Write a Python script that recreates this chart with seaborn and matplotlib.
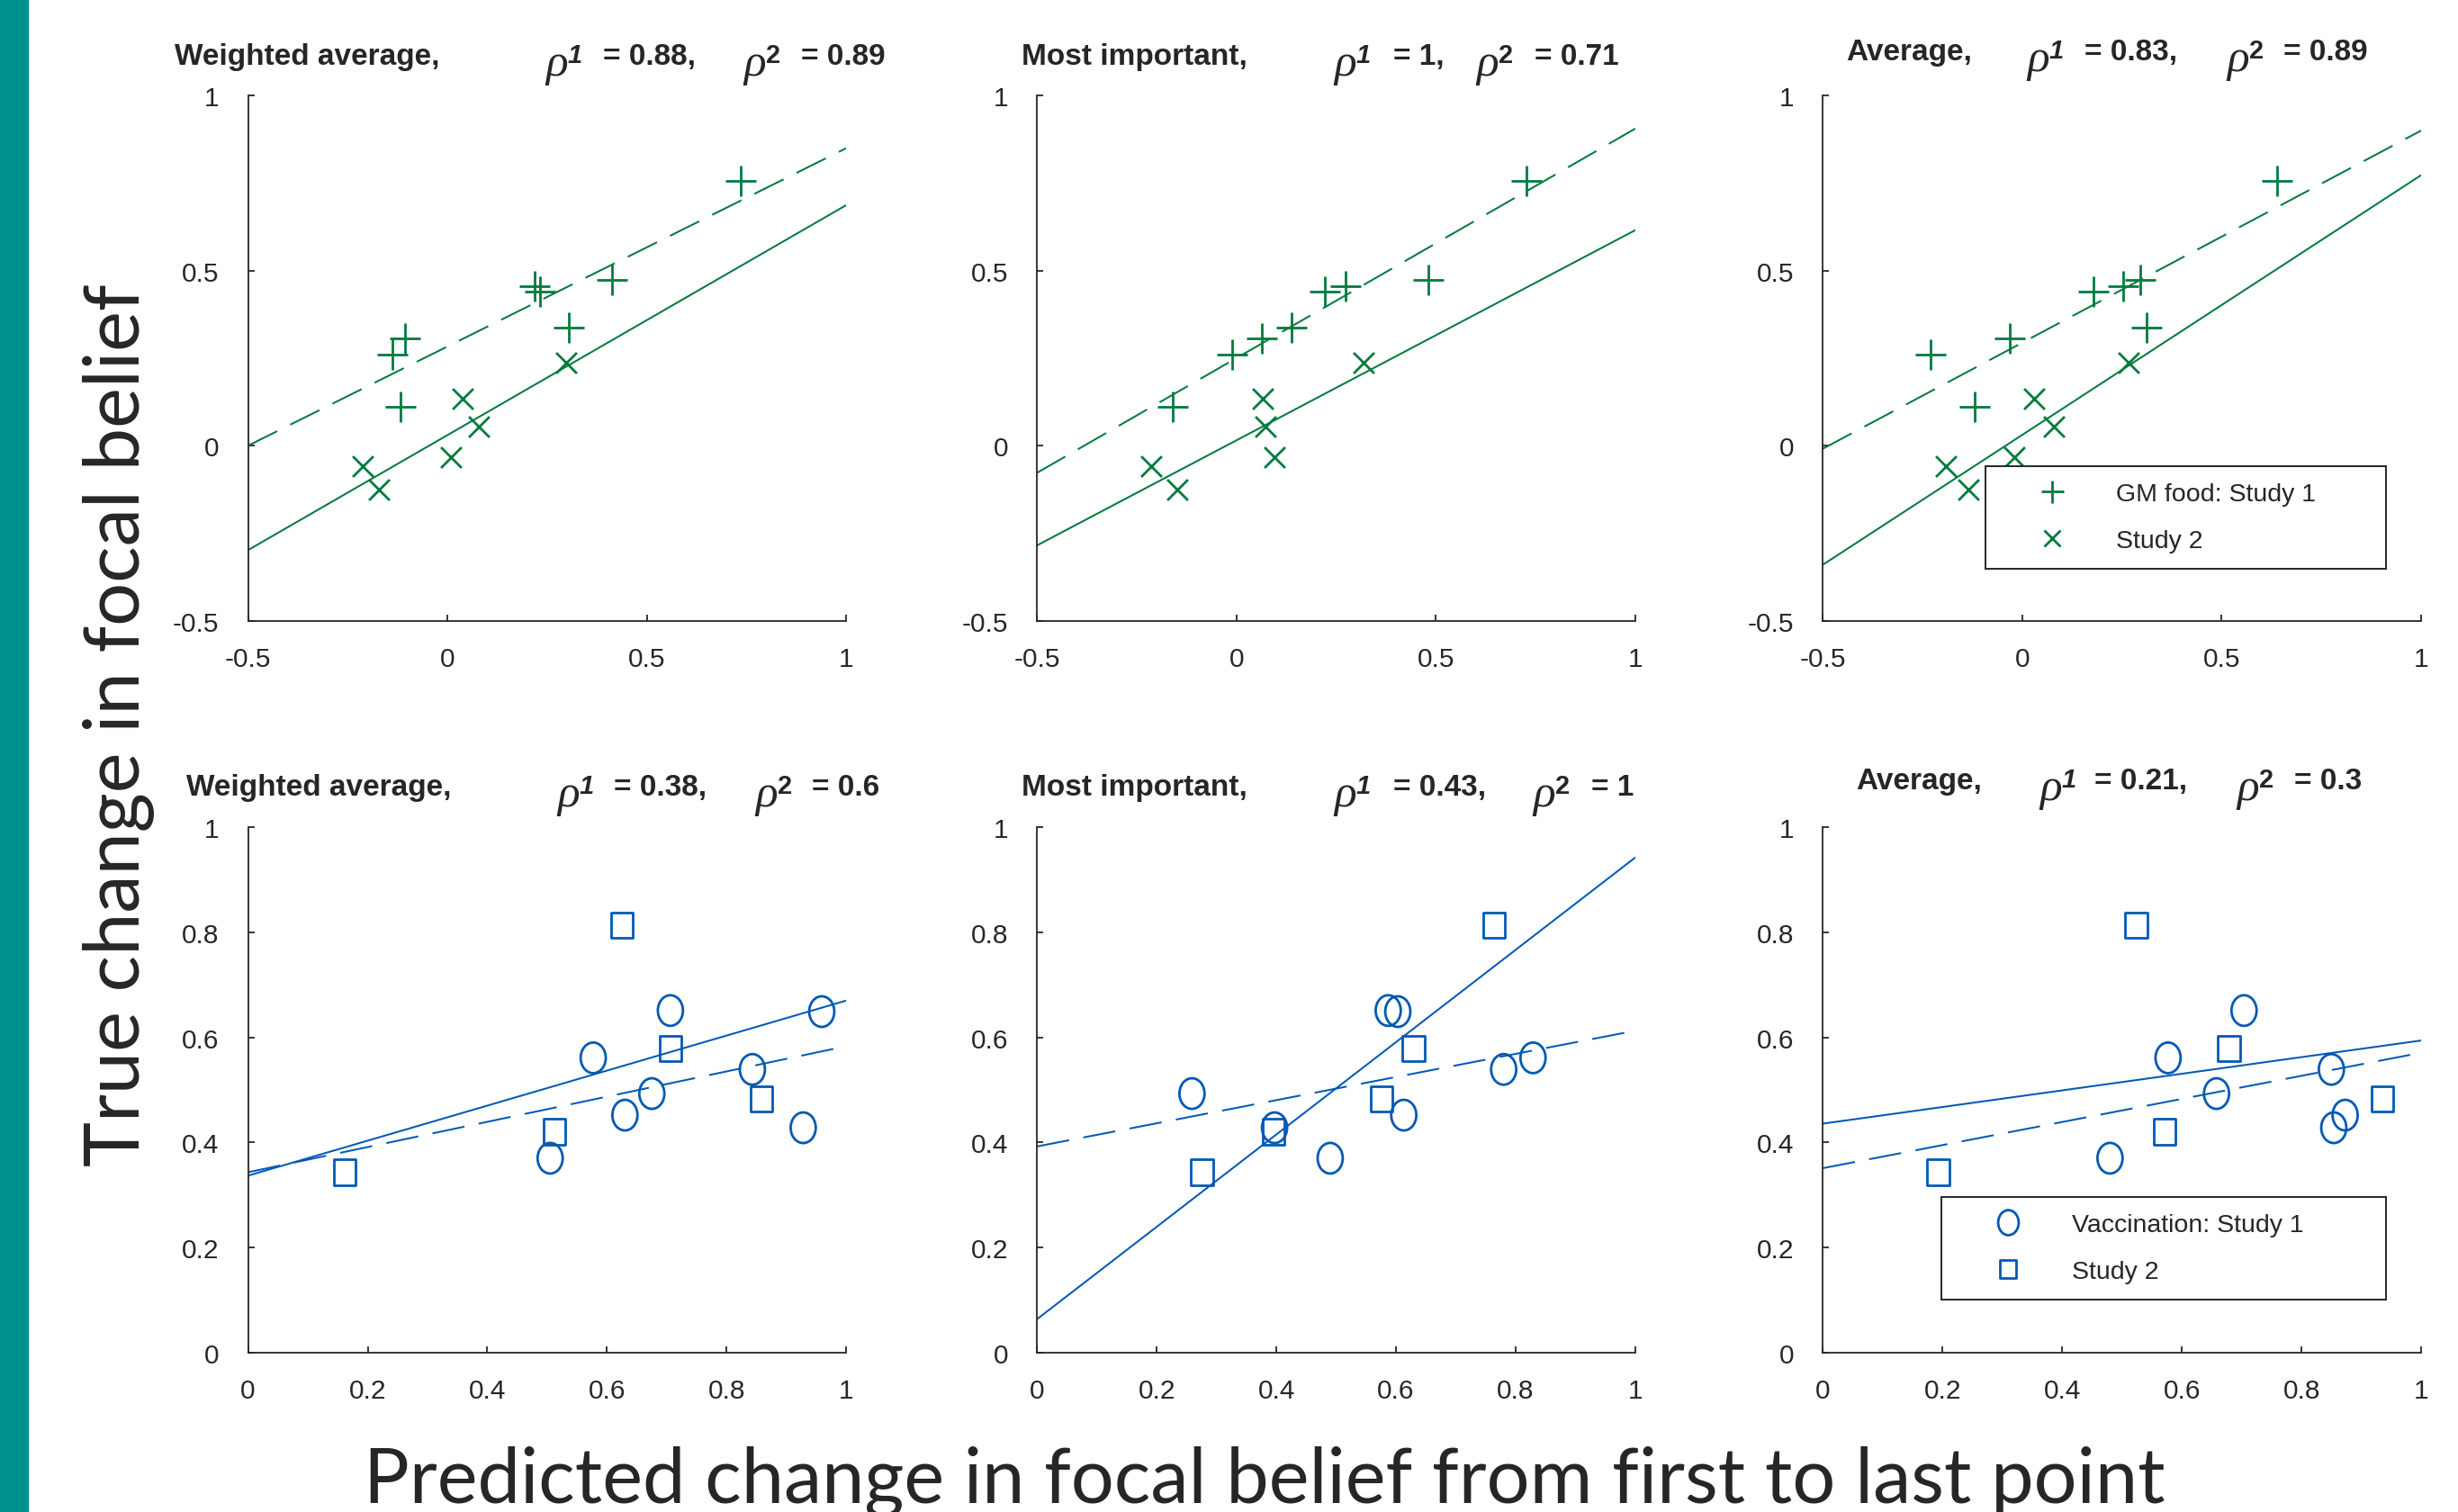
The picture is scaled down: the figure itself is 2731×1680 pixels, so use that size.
"""
Predicted vs true change in focal belief, GM food (top) and vaccination (bottom),
for three aggregation rules. Fit lines are OLS per study, drawn across the axis.
"""

import matplotlib
matplotlib.use("Agg")
import matplotlib.pyplot as plt
import seaborn as sns
from matplotlib import font_manager
from matplotlib.lines import Line2D
from matplotlib.path import Path
from matplotlib.transforms import Affine2D

# ---- data ----
METHODS = ["Weighted average,", "Most important,", "Average,"]
RHO_GM = [("0.88", "0.89"), ("1", "0.71"), ("0.83", "0.89")]
RHO_VAC = [("0.38", "0.6"), ("0.43", "1"), ("0.21", "0.3")]

LEGEND_GM = ["GM food: Study 1", "Study 2"]
LEGEND_VAC = ["Vaccination: Study 1", "Study 2"]

GM_TRUE_S1 = [0.756, 0.473, 0.455, 0.440, 0.337, 0.305, 0.260, 0.111]
GM_PRED_S1_WAVG = [0.736, 0.412, 0.218, 0.232, 0.304, -0.107, -0.138, -0.117]
GM_PRED_S1_MOST = [0.727, 0.481, 0.273, 0.222, 0.139, 0.063, -0.011, -0.159]
GM_PRED_S1_AVG = [0.638, 0.296, 0.252, 0.179, 0.311, -0.031, -0.230, -0.119]

GM_TRUE_S2 = [0.237, 0.133, 0.054, -0.034, -0.058, -0.125]
GM_PRED_S2_WAVG = [0.298, 0.037, 0.078, 0.009, -0.212, -0.171]
GM_PRED_S2_MOST = [0.319, 0.066, 0.073, 0.096, -0.214, -0.149]
GM_PRED_S2_AVG = [0.267, 0.030, 0.080, -0.021, -0.192, -0.135]

VAC_TRUE_S1 = [0.649, 0.651, 0.561, 0.539, 0.493, 0.452, 0.428, 0.370]
VAC_PRED_S1_WAVG = [0.959, 0.706, 0.577, 0.843, 0.675, 0.630, 0.928, 0.505]
VAC_PRED_S1_MOST = [0.603, 0.587, 0.829, 0.780, 0.259, 0.613, 0.397, 0.490]
VAC_PRED_S1_AVG = [1.080, 0.704, 0.577, 0.850, 0.658, 0.873, 0.854, 0.480]  # first one sits off-axis

VAC_TRUE_S2 = [0.813, 0.579, 0.483, 0.420, 0.343]
VAC_PRED_S2_WAVG = [0.625, 0.706, 0.858, 0.512, 0.162]
VAC_PRED_S2_MOST = [0.764, 0.629, 0.576, 0.395, 0.276]
VAC_PRED_S2_AVG = [0.524, 0.679, 0.935, 0.571, 0.193]

GM_TICKS = [-0.5, 0, 0.5, 1]
VAC_TICKS = [0, 0.2, 0.4, 0.6, 0.8, 1]

# ---- style ----
GREEN = "#007A3D"
BLUE = "#0059B3"
TEAL = "#00908E"
AXIS_GREY = "#262626"
DASHED = (0, (18, 8))
RHO_FONT = ["Liberation Serif", "DejaVu Serif"]

W, H = 2731, 1681


def fx(px):
    return px / W


def fy(py):
    return 1 - py / H


sns.set_theme(style="ticks")
plt.rcParams["font.family"] = ["Liberation Sans", "DejaVu Sans"]

available = {f.name for f in font_manager.fontManager.ttflist}
if "Liberation Sans Narrow" in available:
    BIG_FONT, BIG_SIZE = "Liberation Sans Narrow", 75
else:
    BIG_FONT, BIG_SIZE = "Lato", 61

# MATLAB-ish markers: the original was stretched a bit vertically
ELLIPSE = Path.unit_circle().transformed(Affine2D().scale(0.82, 1.0))
RECT = Path([(-0.43, -0.5), (0.43, -0.5), (0.43, 0.5), (-0.43, 0.5), (-0.43, -0.5)],
            [Path.MOVETO, Path.LINETO, Path.LINETO, Path.LINETO, Path.CLOSEPOLY])

fig = plt.figure(figsize=(W / 100, H / 100), dpi=100)
fig.patch.set_facecolor("white")

# teal strip on the left edge of the slide
fig.patches.append(plt.Rectangle((0, 0), fx(31), 1, transform=fig.transFigure,
                                 color=TEAL, zorder=0))

COL_LEFT = [0.1009, 0.4219, 0.7416]
COL_W = 0.2434
ROW_BOTTOM = [0.589, 0.1053]
ROW_H = 0.3474

# label_x, rho1_x, val1_x, rho2_x, val2_x, baseline_y (in original pixels)
TITLE_POS = [
    [(194, 606, 670, 826, 890, 72), (1135, 1482, 1548, 1640, 1705, 72),
     (2051, 2252, 2316, 2474, 2537, 67)],
    [(207, 619, 682, 839, 902, 884), (1135, 1482, 1548, 1703, 1768, 884),
     (2062, 2266, 2327, 2485, 2549, 877)],
]


def rho_label(x, base, sup, italic_sup):
    # italic rho sitting a little low, with a bold superscript study number
    fig.text(fx(x), fy(base + 12), "ρ", fontsize=37, style="italic",
             family=RHO_FONT, va="baseline", ha="left")
    fig.text(fx(x + 25), fy(base - 2), sup, fontsize=21, fontweight="bold",
             style="italic" if italic_sup else "normal", va="baseline", ha="left")


rows = [
    dict(color=GREEN, ticks=GM_TICKS, rho=RHO_GM,
         s1=(GM_TRUE_S1, [GM_PRED_S1_WAVG, GM_PRED_S1_MOST, GM_PRED_S1_AVG]),
         s2=(GM_TRUE_S2, [GM_PRED_S2_WAVG, GM_PRED_S2_MOST, GM_PRED_S2_AVG]),
         m1=("+", 576, None), m2=("x", 272, None)),
    dict(color=BLUE, ticks=VAC_TICKS, rho=RHO_VAC,
         s1=(VAC_TRUE_S1, [VAC_PRED_S1_WAVG, VAC_PRED_S1_MOST, VAC_PRED_S1_AVG]),
         s2=(VAC_TRUE_S2, [VAC_PRED_S2_WAVG, VAC_PRED_S2_MOST, VAC_PRED_S2_AVG]),
         m1=(ELLIPSE, 600, "none"), m2=(RECT, 420, "none")),
]

for r, row in enumerate(rows):
    lo, hi = row["ticks"][0], row["ticks"][-1]
    for c in range(3):
        ax = fig.add_axes([COL_LEFT[c], ROW_BOTTOM[r], COL_W, ROW_H])
        ax.set_xlim(lo, hi)
        ax.set_ylim(lo, hi)

        for (y_true, preds), (mk, size, face), ls in (
            (row["s1"], row["m1"], DASHED),
            (row["s2"], row["m2"], "-"),
        ):
            scatter_kws = dict(s=size, linewidths=2, alpha=1, zorder=3)
            if face is not None:
                scatter_kws.update(facecolors=face, edgecolors=row["color"])
            sns.regplot(x=preds[c], y=y_true, ax=ax, marker=mk, color=row["color"],
                        ci=None, truncate=False, scatter_kws=scatter_kws,
                        line_kws=dict(linewidth=1.45, linestyle=ls, zorder=2))

        ax.set_xlabel("")
        ax.set_ylabel("")
        ax.set_xticks(row["ticks"])
        ax.set_yticks(row["ticks"])
        ax.set_xticklabels([f"{t:g}" for t in row["ticks"]])
        ax.set_yticklabels([f"{t:g}" for t in row["ticks"]])
        ax.tick_params(direction="in", length=5, width=1.3, color=AXIS_GREY,
                       labelsize=21.5, labelcolor=AXIS_GREY)
        ax.tick_params(axis="x", pad=20)
        ax.tick_params(axis="y", pad=23)
        sns.despine(ax=ax)
        for side in ("left", "bottom"):
            ax.spines[side].set_color(AXIS_GREY)
            ax.spines[side].set_linewidth(1.3)

        # panel header: method name and the two correlations
        lx, r1x, v1x, r2x, v2x, by = TITLE_POS[r][c]
        rho1, rho2 = row["rho"][c]
        fig.text(fx(lx), fy(by), METHODS[c], fontsize=24, fontweight="bold",
                 va="baseline", ha="left")
        rho_label(r1x, by, "1", True)
        fig.text(fx(v1x), fy(by), f"= {rho1},", fontsize=24, fontweight="bold",
                 va="baseline", ha="left")
        rho_label(r2x, by, "2", False)
        fig.text(fx(v2x), fy(by), f"= {rho2}", fontsize=24, fontweight="bold",
                 va="baseline", ha="left")

        if c == 2:
            if r == 0:
                handles = [
                    Line2D([], [], ls="none", marker="+", ms=18, mew=2, color=GREEN),
                    Line2D([], [], ls="none", marker="x", ms=13.5, mew=2, color=GREEN),
                ]
                labels = LEGEND_GM
                box = (2206, 519, 2651, 647)
            else:
                handles = [
                    Line2D([], [], ls="none", marker=ELLIPSE, ms=20, mew=2,
                           mfc="none", mec=BLUE),
                    Line2D([], [], ls="none", marker=RECT, ms=14.5, mew=2,
                           mfc="none", mec=BLUE),
                ]
                labels = LEGEND_VAC
                box = (2157, 1331, 2651, 1459)
            x0, y0, x1, y1 = box
            leg = ax.legend(handles, labels, loc="upper left", mode="expand",
                            bbox_to_anchor=(fx(x0), fy(y1), fx(x1) - fx(x0), fy(y0) - fy(y1)),
                            bbox_transform=fig.transFigure, borderaxespad=0,
                            fontsize=20.5, borderpad=0.64, labelspacing=0.9,
                            handlelength=3.9, handletextpad=0.55,
                            frameon=True, fancybox=False, framealpha=1)
            leg.get_frame().set_edgecolor(AXIS_GREY)
            leg.get_frame().set_linewidth(1.4)

fig.text(0.048, 0.521, "True change in focal belief", rotation=90, ha="center",
         va="center", fontsize=BIG_SIZE, family=[BIG_FONT, "DejaVu Sans"])
fig.text(0.5144, 0.0071, "Predicted change in focal belief from first to last point",
         ha="center", va="baseline", fontsize=BIG_SIZE, family=[BIG_FONT, "DejaVu Sans"])

fig.savefig("out.png", dpi=100)
